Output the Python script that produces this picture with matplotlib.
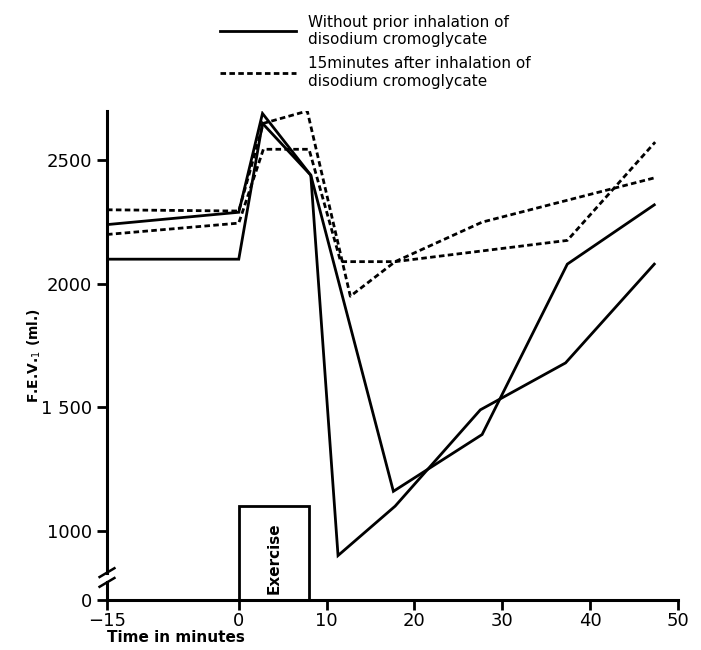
import numpy as np
import matplotlib
matplotlib.use("Agg")
import matplotlib.pyplot as plt
from matplotlib.lines import Line2D

# ---- data (time in minutes, FEV1 in ml) ----
solid_a_t = [-15, 0, 2.7, 8.2, 11.3, 17.8, 27.5, 37.2, 47.3]
solid_a_v = [2100, 2100, 2650, 2440, 900, 1100, 1490, 1680, 2080]
solid_b_t = [-15, 0, 2.7, 8.2, 17.6, 27.7, 37.4, 47.3]
solid_b_v = [2240, 2290, 2690, 2440, 1160, 1390, 2080, 2320]
dashed_c_t = [-15, 0, 2.8, 7.8, 12.7, 17.8, 27.7, 47.4]
dashed_c_v = [2300, 2295, 2650, 2700, 1950, 2090, 2250, 2430]
dashed_d_t = [-15, 0, 2.8, 8.0, 11.6, 17.8, 37.4, 47.4]
dashed_d_v = [2200, 2246, 2545, 2545, 2090, 2090, 2176, 2574]

exercise_start, exercise_end, exercise_top = 0, 8, 1100

x_ticks = [-15, 0, 10, 20, 30, 40, 50]
y_ticks = [0, 1000, 1500, 2000, 2500]
y_labels = ["0", "1000", "1 500", "2000", "2500"]

legend_labels = ["Without prior inhalation of\ndisodium cromoglycate",
                 "15minutes after inhalation of\ndisodium cromoglycate"]

# broken y axis: compress everything below BREAK
BREAK = 820.0
SQUEEZE = 100.0 / BREAK


def fwd(v):
    v = np.asarray(v, dtype=float)
    return np.where(v >= BREAK, v, 720 + v * SQUEEZE)


def inv(u):
    u = np.asarray(u, dtype=float)
    return np.where(u >= BREAK, u, (u - 720) / SQUEEZE)


plt.rcParams['font.family'] = ['DejaVu Sans']

fig = plt.figure(figsize=(7.01, 6.5), dpi=100)
ax = fig.add_axes([107 / 701, 50 / 650, (678 - 107) / 701, (600 - 111) / 650])
ax.set_yscale('function', functions=(fwd, inv))

solid_style = dict(color='black', lw=2.0, solid_joinstyle='miter')
dash_style = dict(color='black', lw=2.0, linestyle=(0, (2.0, 1.2)))

ax.plot(solid_a_t, solid_a_v, **solid_style)
ax.plot(solid_b_t, solid_b_v, **solid_style)
ax.plot(dashed_c_t, dashed_c_v, **dash_style)
ax.plot(dashed_d_t, dashed_d_v, **dash_style)

# exercise box
ax.bar(exercise_start, exercise_top, width=exercise_end - exercise_start,
       align='edge', fill=False, edgecolor='black', lw=2.0, clip_on=False)
ax.text((exercise_start + exercise_end) / 2, 890, "Exercise", rotation=90,
        ha='center', va='center', fontsize=11, fontweight='bold')

ax.set_xlim(-15, 50)
ax.set_ylim(0, 2700)
ax.set_xticks(x_ticks)
ax.set_xticklabels(["\u221215"] + [str(t) for t in x_ticks[1:]])
ax.set_yticks(y_ticks)
ax.set_yticklabels(y_labels)
ax.tick_params(axis='both', labelsize=13, width=2, length=7, direction='out')
ax.tick_params(axis='y', pad=4)
ax.tick_params(axis='x', pad=2)

for s in ['top', 'right', 'left']:
    ax.spines[s].set_visible(False)
ax.spines['bottom'].set_linewidth(2.2)

# left spine drawn in two pieces with break marks
tr = ax.transAxes
ax.plot([0, 0], [0, 0.036], transform=tr, color='black', lw=2.2, clip_on=False)
ax.plot([0, 0], [0.056, 1.0], transform=tr, color='black', lw=2.2, clip_on=False)
for yb in (0.036, 0.056):
    ax.plot([-0.013, 0.013], [yb - 0.009, yb + 0.009], transform=tr,
            color='black', lw=1.8, clip_on=False)

ax.set_ylabel("F.E.V.$_1$ (ml.)", fontsize=10, fontweight='bold', labelpad=-2)
ax.set_xlabel("Time in minutes", fontsize=11, fontweight='bold',
              loc='left', labelpad=0)

handles = [Line2D([], [], **solid_style), Line2D([], [], **dash_style)]
fig.legend(handles, legend_labels, loc='upper left',
           bbox_to_anchor=(215 / 701, 1 - 10 / 650), frameon=False,
           fontsize=11, handlelength=5.0, handletextpad=0.8,
           labelspacing=0.6, borderpad=0.3, borderaxespad=0)

fig.savefig("out.png", dpi=100)
